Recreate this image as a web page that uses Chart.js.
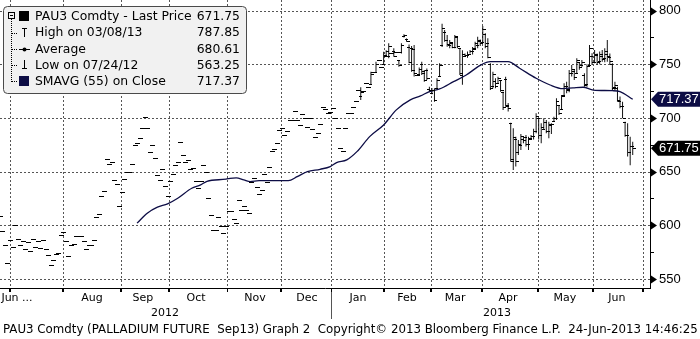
<!DOCTYPE html>
<html>
<head>
<meta charset="utf-8">
<title>PAU3 Comdty</title>
<script src="https://cdn.jsdelivr.net/npm/chart.js@4.4.0/dist/chart.umd.min.js"></script>
<style>
    body { margin: 0; background: #fff; }
    canvas { display: block; }
</style>
</head>
<body>
<canvas id="chart" width="700" height="339"></canvas>
<script>
// one index per trading day, 0 = 02-Jul-2012, last bar = 24-Jun-2013
const firstDay = -4

const closes = [
    608.5, 594.5, 582, 565,
    586.4, 580, 600, 587, 581.5, 585.5, 578, 584.3, 576, 587, 580, 585.5, 578.8, 586.2, 577.8, 572.2, 563.25, 567.5, 573, 574.6, 590.8,
    593.6, 585.2, 571.2, 581.5, 582.4, 590.4, 589.8, 589.8, 585.2, 577.8, 581.5, 581.5, 586.2, 607.5, 610.3, 627, 632, 661.6, 657, 659, 642, 638.4, 618,
    630.8, 643, 649.4, 650, 657, 675, 676.4, 681, 690.4, 700.6, 690.4, 668, 674.5, 662.5, 647, 642, 652, 636.7, 627.4,
    641.6, 647.8, 656, 659.4, 677.4, 665.3, 659, 660.6, 652.5, 653, 641.3, 635, 641.3, 656, 650, 625.3, 610, 596, 596, 607.5, 599, 592.6, 599.5,
    613.4, 613, 606, 602.5, 623.6, 614, 618, 614, 611.3, 640.4, 644.4, 635.4, 629.2, 633, 647.8, 640.7, 654.1, 669, 670.9, 677, 688.8,
    690.4, 684.2, 688.2, 698, 698, 706.6, 698, 693.5, 703.5, 700, 692, 700, 690, 682.6, 685.7, 694.4, 710, 708, 704.4, 706,
    709.7, 699.7, 690.4, 671.8, 669.3, 690.4, 704.4, 705, 710, 716, 726, 724, 725.4, 732.3, 728.6, 741, 743, 750, 754, 747.8, 758,
    762, 767, 760.2, 758, 761.7, 749, 768, 777, 772, 752, 745, 742, 740, 746, 742, 735, 737, 726,
    726, 717, 735, 749, 784, 773, 769, 771, 766, 776, 767, 742, 760, 759, 760, 762, 765, 770, 773, 770,
    783, 767, 757, 728, 741, 730, 737, 726, 710, 712, 709, 662, 682, 660, 676, 683, 679, 676, 680, 683, 688, 702,
    684, 692, 696, 688, 694, 694, 700, 716, 705, 720, 730, 726, 742, 746, 738, 754, 747, 752, 731, 748, 765, 752,
    760, 752, 760, 755, 762, 758, 753, 728, 731, 717, 711, 700, 684, 668, 674, 671.75
]

// open / high / low from day 127 (Jan 2013) on; null = no range, bar is a flat dash at the close
const rangeFrom = 127
const opens = [
    null, null, null, null, null, null, null, null, null, null, null, 720, null, null, null, 732, null, 743, null, null, 750,
    759, 758, null, 762, null, 754, 761, 776, 774, 766, 765, 764, null, 741, 750, 744, 745, 727,
    723, 726, 728, 739, 768, 780, 773, 768, 770, 766, 775, 765, 740, 758, 759, 760, 762, 764, 768, 772,
    771, 778, 770, 750, 730, 734, 733, 735, 724, 736, 711, 695, 660, 680, 668, 675, 680, 682, 676, 681, 683, 688,
    700, 684, 690, 696, 688, 693, 697, 700, 712, 708, 721, 730, 727, 742, 744, 742, 752, 749, 740, 732, 749, 758,
    752, 759, 753, 758, 756, 760, 757, 750, 729, 728, 716, 711, 696, 684, 668, 674
]
const highs = [
    null, null, null, null, null, null, null, null, null, null, null, 728.6, null, null, null, 743, null, 752.4, null, null, 761.7,
    763, 769.5, null, 765, null, 754, 769.5, 778, 774, 768.5, 767, 768, null, 747, 752.4, 744.7, 746, 729,
    728, 727.6, 737, 751, 787.85, 782, 777.3, 772.6, 770, 777.3, 776, 765, 763, 760, 762, 763.3, 766, 771, 775.7, 773,
    785.7, 778.9, 774.2, 751, 743, 737, 738.4, 735.4, 724.5, 738.4, 714, 695.6, 690.4, 682.6, 679.5, 685, 683.2, 684.2, 682.6, 684.2, 690, 704.4,
    700, 695, 699.7, 698, 696.5, 695, 701.2, 718.3, 712.1, 721.4, 732.3, 733.8, 744.7, 749.4, 744.7, 755.6, 752, 754, 741.6, 750, 768, 760.2,
    763.3, 760, 762, 763.3, 765, 772.6, 760, 751, 733.8, 729, 719.9, 715.2, 696.5, 695, 682.6, 677.9
]
const lows = [
    null, null, null, null, null, null, null, null, null, null, null, 716.8, null, null, null, 731.7, null, 742.2, null, null, 749.4,
    758, 755.6, null, 757, null, 747.8, 760, 775, 771, 751, 743, 738.5, null, 740, 740, 733.8, 735.4, 724,
    722, 715.2, 727.6, 738.5, 766, 771, 766.4, 765, 765, 765, 765, 740, 731, 757, 756, 760, 759, 763.3, 765, 767,
    769.5, 765, 755.6, 726, 727.6, 727.6, 732.3, 724.5, 707.4, 710.5, 706, 659.3, 651.6, 654.7, 665.6, 670.2, 676.5, 673.3, 670.2, 679.5, 680, 685.7,
    680, 676.5, 688.8, 685.7, 681, 685, 696.5, 698, 702.8, 707.5, 719.9, 723, 724, 738.5, 735.4, 741.6, 745, 747.8, 729.1, 729, 747.8, 749.4,
    751, 749.4, 750, 752.4, 752, 752.4, 750, 726, 726, 715.2, 709, 699.7, 682.6, 664, 656, 665.6
]

// 55 day moving average
const smaDays = [50, 54, 58, 62, 66, 71.5, 75, 77.5, 85, 86.5, 89, 92, 94.5, 98, 109.5, 113, 117, 122, 126, 128.5, 132.5, 136.5,
    141.5, 147, 152, 157.5, 161.5, 165, 169, 174.5, 179.5, 185, 189, 196, 200.5, 207, 212.5, 217.5, 221.5, 225.5, 229.5, 237, 240, 245]
const smaValues = [602, 611.3, 616.9, 620, 625.2, 634.5, 637.6, 641, 643, 643.8, 644.2, 642.3, 640.7, 641.6, 641.6, 645.3, 650, 652.2,
    654.7, 658.4, 661, 668.6, 682.6, 693.5, 707.5, 716.8, 720.5, 724.5, 727, 733.8, 740, 749, 752.4, 752.4, 746.3, 737, 730.7,
    727.3, 728, 728.6, 726, 725.4, 724.5, 717.37]

const monthStarts = [0, 20.8, 43.6, 62.5, 85.4, 106.6, 126.3, 147.1, 165.6, 185.7, 207.7, 229.3, 249]
const monthLabels = ['Jun ...', 'Aug', 'Sep', 'Oct', 'Nov', 'Dec', 'Jan', 'Feb', 'Mar', 'Apr', 'May', 'Jun']
const monthLabelDays = [2.75, 32.3, 52.3, 73.2, 96.4, 116.8, 136.9, 156.2, 175.1, 195.9, 218.3, 238.8]
const yearLabels = ['2012', '2013']
const yearLabelDays = [61, 191.6]
const yearSplit = 126.3
const yTicks = [550, 575, 600, 625, 650, 675, 700, 725, 750, 775, 800]

const legendLabels = ['PAU3 Comdty - Last Price', 'High on 03/08/13', 'Average', 'Low on 07/24/12', 'SMAVG (55) on Close']
const legendValues = ['671.75', '787.85', '680.61', '563.25', '717.37']
const lastPrice = 671.75
const lastSma = 717.37

const footer = 'PAU3 Comdty (PALLADIUM FUTURE  Sep13) Graph 2  Copyright\u00a9 2013 Bloomberg Finance L.P.  24-Jun-2013 14:46:25'

const xMin = -3.93
const xMax = 251.8
const yMin = 541.6
const yMax = 809.87
const navy = '#0d0d45'
const gridGrey = '#555555'

function rangeOf(i) {
    let k = firstDay + i - rangeFrom
    let c = closes[i]
    if (k < 0 || highs[k] == null) return { o: c, h: c, l: c, c: c }
    return { o: opens[k], h: highs[k], l: lows[k], c: c }
}

let hlData = closes.map((c, i) => {
    let r = rangeOf(i)
    return { x: firstDay + i, y: [r.l, r.h] }
})

let smaData = smaDays.map((d, i) => ({ x: d, y: smaValues[i] }))

// dashed grid stroked at pixel centres
function drawGrid(chart) {
    const { ctx, chartArea: a, scales: { x, y } } = chart
    ctx.save()
    ctx.strokeStyle = gridGrey
    ctx.lineWidth = 1
    ctx.setLineDash([2, 2])
    ctx.beginPath()
    monthStarts.forEach((d) => {
        let px = Math.round(x.getPixelForValue(d)) + 0.5
        if (px < a.left || px > a.right - 1) return
        ctx.moveTo(px, a.top)
        ctx.lineTo(px, a.bottom)
    })
    yTicks.filter(v => v % 50 === 0).forEach((v) => {
        let py = Math.round(y.getPixelForValue(v)) + 0.5
        ctx.moveTo(a.left, py)
        ctx.lineTo(a.right, py)
    })
    ctx.stroke()
    ctx.restore()
}

// open tick left of each bar, close tick right of it
const ohlcTicks = {
    id: 'ohlcTicks',
    beforeDatasetsDraw(chart) {
        drawGrid(chart)
    },
    afterDatasetsDraw(chart) {
        const { ctx, chartArea: a, scales: { y } } = chart
        ctx.save()
        ctx.beginPath()
        ctx.rect(a.left, a.top, a.width, a.height)
        ctx.clip()
        ctx.fillStyle = '#000'
        chart.getDatasetMeta(1).data.forEach((el, i) => {
            let r = rangeOf(i)
            let px = Math.round(el.x)
            ctx.fillRect(px - 2, Math.round(y.getPixelForValue(r.o)), 3, 1)
            ctx.fillRect(px, Math.round(y.getPixelForValue(r.c)), 3, 1)
        })
        ctx.restore()
    }
}

function drawTag(ctx, yp, text, bg) {
    ctx.beginPath()
    ctx.moveTo(651, yp)
    ctx.lineTo(658, yp - 7.5)
    ctx.lineTo(700, yp - 7.5)
    ctx.lineTo(700, yp + 7.5)
    ctx.lineTo(658, yp + 7.5)
    ctx.closePath()
    ctx.fillStyle = bg
    ctx.fill()
    ctx.fillStyle = '#fff'
    ctx.font = "13px 'Liberation Sans'"
    ctx.textAlign = 'left'
    ctx.textBaseline = 'middle'
    ctx.fillText(text, 659, yp + 0.5)
}

function drawLegend(ctx) {
    ctx.save()
    ctx.beginPath()
    ctx.roundRect(3.5, 6.5, 243, 87, 4)
    ctx.fillStyle = '#f1f1f1'
    ctx.fill()
    ctx.strokeStyle = '#4a4a4a'
    ctx.lineWidth = 1
    ctx.stroke()

    let rows = [16, 32.5, 49, 65, 81]
    // tree lines
    ctx.fillStyle = '#000'
    for (let yy = 19; yy <= rows[4]; yy += 2) ctx.fillRect(11, yy, 1, 1)
    rows.slice(1).forEach((r) => {
        for (let xx = 12; xx <= 16; xx += 2) ctx.fillRect(xx, Math.round(r), 1, 1)
    })
    ctx.strokeStyle = '#000'
    ctx.strokeRect(8.5, 12.5, 6, 6)
    ctx.fillRect(10, 15, 3, 1)

    ctx.fillRect(19, 11, 10, 10)
    ctx.fillRect(22, 28, 5, 1)
    ctx.fillRect(24, 28, 1, 9)
    ctx.fillRect(19, 49, 11, 1)
    ctx.beginPath()
    ctx.arc(24.5, 49.5, 2, 0, Math.PI * 2)
    ctx.fill()
    ctx.fillRect(24, 60, 1, 9)
    ctx.fillRect(22, 68, 5, 1)
    ctx.fillStyle = navy
    ctx.fillRect(19, 76, 10, 10)

    ctx.fillStyle = '#000'
    ctx.font = "12.4px 'DejaVu Sans'"
    ctx.textBaseline = 'middle'
    legendLabels.forEach((t, i) => {
        ctx.textAlign = 'left'
        ctx.fillText(t, 35, rows[i] + 0.5)
        ctx.textAlign = 'right'
        ctx.fillText(legendValues[i], 240, rows[i] + 0.5)
    })
    ctx.restore()
}

const decorations = {
    id: 'decorations',
    afterDraw(chart) {
        const { ctx, chartArea: a, scales: { x, y } } = chart
        ctx.save()
        ctx.fillStyle = '#000'
        // month tick marks under the axis
        monthStarts.forEach((d) => {
            let px = Math.round(x.getPixelForValue(d))
            if (px >= a.left && px < a.right) ctx.fillRect(px, Math.round(a.bottom), 1, 4)
        })
        // price ticks: arrow heads on the majors, short marks on the minors
        yTicks.forEach((v) => {
            let yp = Math.round(y.getPixelForValue(v))
            if (v % 50 !== 0) {
                ctx.fillRect(Math.round(a.right), yp, 4, 1)
                return
            }
            ctx.beginPath()
            ctx.moveTo(a.right + 1, yp - 3.5)
            ctx.lineTo(a.right + 7, yp + 0.5)
            ctx.lineTo(a.right + 1, yp + 4.5)
            ctx.closePath()
            ctx.fill()
        })
        // year divider
        let xs = Math.round(x.getPixelForValue(yearSplit)) + 0.5
        ctx.strokeStyle = '#555'
        ctx.beginPath()
        ctx.moveTo(xs, a.bottom + 4)
        ctx.lineTo(xs, a.bottom + 31)
        ctx.stroke()

        drawTag(ctx, y.getPixelForValue(lastSma), lastSma.toFixed(2), navy)
        drawTag(ctx, y.getPixelForValue(lastPrice), lastPrice.toFixed(2), '#000')
        drawLegend(ctx)

        ctx.fillStyle = '#000'
        ctx.font = "11.8px 'DejaVu Sans'"
        ctx.textAlign = 'left'
        ctx.textBaseline = 'middle'
        ctx.fillText(footer, 3, 330)
        ctx.restore()
    }
}

function noPad(s) {
    s.paddingLeft = 0
    s.paddingRight = 0
    s.paddingTop = 0
    s.paddingBottom = 0
}

const labelFont = { family: 'DejaVu Sans', size: 11 }

const config = {
    data: {
        datasets: [{
            type: 'line',
            label: 'SMAVG (55) on Close',
            data: smaData,
            xAxisID: 'x',
            yAxisID: 'y',
            borderColor: navy,
            borderWidth: 1.3,
            pointRadius: 0,
            fill: false,
            cubicInterpolationMode: 'monotone',
            order: 0
        }, {
            type: 'bar',
            label: 'PAU3 Comdty',
            data: hlData,
            xAxisID: 'x',
            yAxisID: 'y',
            backgroundColor: '#111',
            borderWidth: 0,
            barThickness: 1,
            inflateAmount: 0,
            order: 1
        }]
    },
    options: {
        responsive: false,
        animation: false,
        events: [],
        layout: { padding: { left: 0, right: 0, top: 0, bottom: 17 } },
        plugins: {
            legend: { display: false },
            tooltip: { enabled: false }
        },
        scales: {
            x: {
                type: 'linear',
                position: 'bottom',
                min: xMin,
                max: xMax,
                offset: false,
                afterBuildTicks: (s) => { s.ticks = monthStarts.map(v => ({ value: v })) },
                ticks: { display: false },
                grid: { offset: false, drawOnChartArea: false, tickColor: '#000', tickLength: 4 },
                border: { display: true, color: '#000', width: 1 },
                afterFit: (s) => { s.height = 4; noPad(s) }
            },
            x2: {
                type: 'linear',
                position: 'bottom',
                min: xMin,
                max: xMax,
                afterBuildTicks: (s) => { s.ticks = monthLabelDays.map(v => ({ value: v })) },
                ticks: {
                    autoSkip: false,
                    maxRotation: 0,
                    padding: 0,
                    color: '#000',
                    font: labelFont,
                    callback: (v, i) => monthLabels[i]
                },
                grid: { display: false, drawTicks: false },
                border: { display: false },
                afterFit: (s) => { s.height = 15; noPad(s) }
            },
            x3: {
                type: 'linear',
                position: 'bottom',
                min: xMin,
                max: xMax,
                afterBuildTicks: (s) => { s.ticks = yearLabelDays.map(v => ({ value: v })) },
                ticks: {
                    autoSkip: false,
                    maxRotation: 0,
                    padding: 0,
                    color: '#000',
                    font: labelFont,
                    callback: (v, i) => yearLabels[i]
                },
                grid: { display: false, drawTicks: false },
                border: { display: false },
                afterFit: (s) => { s.height = 15; noPad(s) }
            },
            y: {
                type: 'linear',
                position: 'right',
                min: yMin,
                max: yMax,
                afterBuildTicks: (s) => { s.ticks = yTicks.map(v => ({ value: v })) },
                ticks: {
                    autoSkip: false,
                    padding: 5,
                    color: '#000',
                    font: { family: 'Liberation Sans', size: 13 },
                    callback: (v) => v % 50 === 0 ? String(v) : ''
                },
                grid: {
                    drawOnChartArea: false,
                    tickColor: 'rgba(0,0,0,0)',
                    tickLength: 4
                },
                border: { display: true, color: '#000', width: 1 },
                afterFit: (s) => { s.width = 50; noPad(s) }
            }
        }
    },
    plugins: [ohlcTicks, decorations]
}

const chart = new Chart(document.getElementById('chart'), config)
</script>
</body>
</html>
